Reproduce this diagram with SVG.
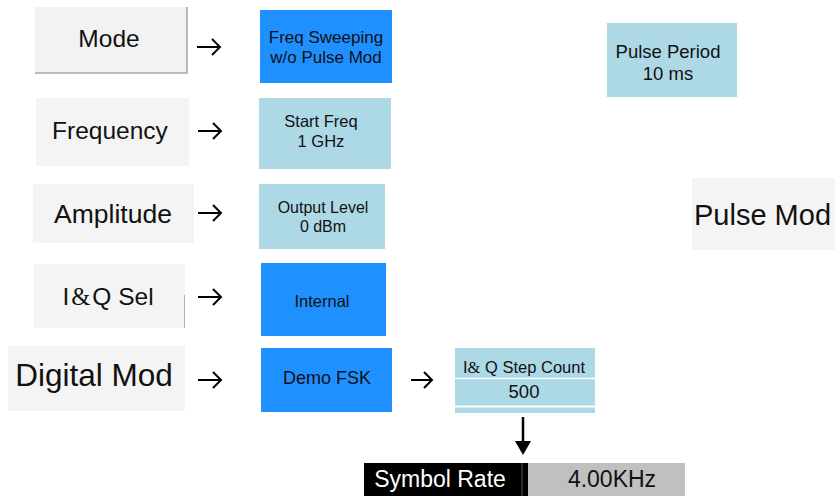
<svg xmlns="http://www.w3.org/2000/svg" width="835" height="496" viewBox="0 0 835 496">
  <defs>
    <style>
      .t { font-family: "Liberation Sans", Arial, sans-serif; fill: #111; }
      .lbl { fill: #f4f4f4; }
      .sel { fill: #1e90ff; }
      .val { fill: #add8e6; }
      .amp { font-family: "Liberation Serif", serif; }
      .arrow { fill: none; stroke: #000; stroke-width: 2; stroke-linecap: butt; stroke-linejoin: miter; }
    </style>
  </defs>
  <rect width="835" height="496" fill="#ffffff"/>

  <!-- Mode button -->
  <g id="mode">
    <rect x="35" y="7" width="153" height="66" fill="#f2f2f2"/>
    <path d="M187 7 V73 H35" fill="none" stroke="#a8a8a8" stroke-width="1.5"/>
    <text class="t" x="109" y="47" font-size="24.5" text-anchor="middle">Mode</text>
  </g>
  <g id="freq-sweeping">
    <rect class="sel" x="260" y="10" width="132" height="73"/>
    <text class="t" x="326" y="43" font-size="17" text-anchor="middle">Freq Sweeping</text>
    <text class="t" x="326" y="63" font-size="17" text-anchor="middle">w/o Pulse Mod</text>
  </g>

  <!-- Frequency -->
  <g id="frequency">
    <rect class="lbl" x="36" y="98" width="153" height="68"/>
    <text class="t" x="110" y="139" font-size="24.5" text-anchor="middle">Frequency</text>
  </g>
  <g id="start-freq">
    <rect class="val" x="259" y="98" width="132" height="71"/>
    <text class="t" x="321" y="127" font-size="16.5" text-anchor="middle">Start Freq</text>
    <text class="t" x="321" y="147" font-size="16.5" text-anchor="middle">1 GHz</text>
  </g>

  <!-- Amplitude -->
  <g id="amplitude">
    <rect class="lbl" x="33" y="184" width="161" height="59"/>
    <text class="t" x="113" y="223" font-size="26.5" text-anchor="middle">Amplitude</text>
  </g>
  <g id="output-level">
    <rect class="val" x="259" y="184" width="126" height="65"/>
    <text class="t" x="323" y="213" font-size="16" text-anchor="middle">Output Level</text>
    <text class="t" x="323" y="232" font-size="16" text-anchor="middle">0 dBm</text>
  </g>

  <!-- I&Q selection -->
  <g id="iq-sel">
    <rect class="lbl" x="34" y="264" width="151" height="64"/>
    <line x1="184.5" y1="295" x2="184.5" y2="328" stroke="#b0b0b0" stroke-width="1"/>
    <text class="t" x="108" y="305" font-size="24.5" text-anchor="middle">I<tspan class="amp" dx="2">&amp;</tspan><tspan dx="2">Q Sel</tspan></text>
  </g>
  <g id="internal">
    <rect class="sel" x="261" y="263" width="125" height="73"/>
    <text class="t" x="322" y="307" font-size="16.5" text-anchor="middle">Internal</text>
  </g>

  <!-- Digital modulation -->
  <g id="digital-mod">
    <rect class="lbl" x="8" y="346" width="177" height="65"/>
    <text class="t" x="94" y="386" font-size="31.5" text-anchor="middle">Digital Mod</text>
  </g>
  <g id="demo-fsk">
    <rect class="sel" x="261" y="348" width="131" height="64"/>
    <text class="t" x="327" y="384" font-size="18" text-anchor="middle">Demo FSK</text>
  </g>
  <g id="iq-step-count">
    <rect class="val" x="455" y="348" width="140" height="65"/>
    <line x1="455" y1="378.5" x2="595" y2="378.5" stroke="#ffffff" stroke-width="1.5"/>
    <line x1="455" y1="406.5" x2="595" y2="406.5" stroke="#ffffff" stroke-width="2"/>
    <text class="t" x="524" y="373" font-size="16.5" text-anchor="middle">I<tspan class="amp">&amp;</tspan> Q Step Count</text>
    <text class="t" x="524" y="398" font-size="18.5" text-anchor="middle">500</text>
  </g>

  <!-- Symbol rate readout -->
  <g id="symbol-rate">
    <rect x="364" y="463" width="164" height="33" fill="#000000"/>
    <line x1="522" y1="463" x2="522" y2="496" stroke="#555555" stroke-width="1"/>
    <rect x="528" y="463" width="157" height="33" fill="#c0c0c0"/>
    <text x="440" y="487" font-family="Liberation Sans, Arial, sans-serif" font-size="23" fill="#ffffff" text-anchor="middle">Symbol Rate</text>
    <text class="t" x="612" y="487" font-size="23" text-anchor="middle">4.00KHz</text>
  </g>

  <!-- Pulse settings -->
  <g id="pulse-period">
    <rect class="val" x="607" y="23" width="130" height="74"/>
    <text class="t" x="668" y="58" font-size="18.5" text-anchor="middle">Pulse Period</text>
    <text class="t" x="668" y="80" font-size="18.5" text-anchor="middle">10 ms</text>
  </g>
  <g id="pulse-mod">
    <rect class="lbl" x="692" y="178" width="143" height="72"/>
    <text class="t" x="694" y="225" font-size="29">Pulse Mod</text>
  </g>

  <!-- Connectors -->
  <g id="connectors">
    <path class="arrow" d="M197 47 H220 M212 39 L220 47 L212 55"/>
    <path class="arrow" d="M198 131 H221 M213 123 L221 131 L213 139"/>
    <path class="arrow" d="M198 213 H221 M213 205 L221 213 L213 221"/>
    <path class="arrow" d="M198 297 H221 M213 289 L221 297 L213 305"/>
    <path class="arrow" d="M198 380 H221 M213 372 L221 380 L213 388"/>
    <path class="arrow" d="M411 380 H432 M424 372 L432 380 L424 388"/>
    <line x1="523" y1="417" x2="523" y2="442" stroke="#000" stroke-width="2.5"/>
    <polygon points="515,441 531,441 523,455" fill="#000"/>
  </g>
</svg>
